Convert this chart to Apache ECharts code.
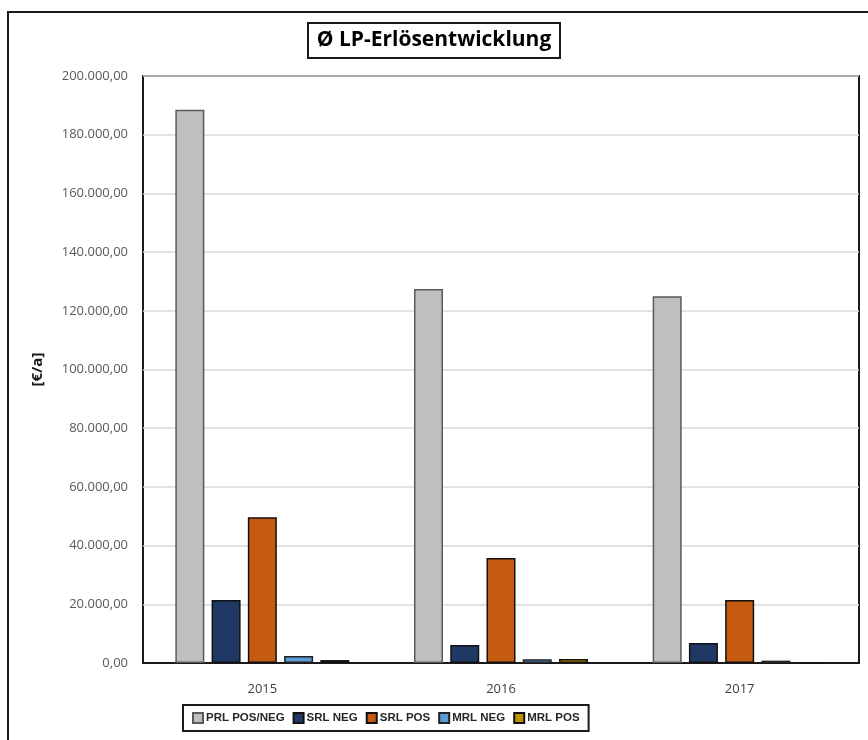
<!DOCTYPE html>
<html>
<head>
<meta charset="utf-8">
<script src="https://cdn.jsdelivr.net/npm/echarts@6/dist/echarts.min.js"></script>
<style>
  html, body { margin: 0; padding: 0; background: #fff; }
  #chart { width: 868px; height: 740px; }
</style>
</head>
<body>
<div id="chart"></div>
<script>
// Average revenue development per year, by product (€/a)
const years = ['2015', '2016', '2017'];
const seriesNames = ['PRL POS/NEG', 'SRL NEG', 'SRL POS', 'MRL NEG', 'MRL POS'];
const prlPosNeg = [188500, 127400, 125000];
const srlNeg = [21500, 6100, 6800];
const srlPos = [49700, 35800, 21500];
const mrlNeg = [2400, 1300, 800];
const mrlPos = [1000, 1400, 200];
const yTicks = [0, 20000, 40000, 60000, 80000, 100000, 120000, 140000, 160000, 180000, 200000];

const seriesValues = [prlPosNeg, srlNeg, srlPos, mrlNeg, mrlPos];
const colors = ['#bfbfbf', '#1f3864', '#c55a11', '#5b9bd5', '#bf9000'];
const borders = ['#5a5a5a', '#111111', '#111111', '#222222', '#111111'];

const FONT = '"Open Sans", "Noto Sans", sans-serif';
const LEGEND_FONT = '"Liberation Sans", Arial, sans-serif';

function deNumber(v) {
  const s = v.toFixed(2).split('.');
  const intPart = s[0].replace(/\B(?=(\d{3})+(?!\d))/g, '.');
  return intPart + ',' + s[1];
}

const chart = echarts.init(document.getElementById('chart'), null, { renderer: 'canvas' });

chart.setOption({
  backgroundColor: '#ffffff',
  animation: false,
  title: {
    text: 'Ø LP-Erlösentwicklung',
    left: 'center',
    top: 23,
    padding: [7, 9, 7, 9],
    borderColor: '#1a1a1a',
    borderWidth: 2,
    textStyle: { fontFamily: FONT, fontSize: 21, fontWeight: 'bold', color: '#000' }
  },
  graphic: [
    {
      type: 'rect',
      shape: { x: 8, y: 12, width: 900, height: 800 },
      style: { fill: 'none', stroke: '#1a1a1a', lineWidth: 2 },
      silent: true,
      z: -1
    }
  ],
  legend: {
    data: seriesNames,
    left: 183,
    top: 705,
    width: 640,
    padding: [7, 9, 7, 9],
    borderColor: '#1a1a1a',
    borderWidth: 2,
    itemWidth: 10,
    itemHeight: 10,
    itemGap: 8,
    icon: 'rect',
    textStyle: { fontFamily: LEGEND_FONT, fontSize: 11.5, fontWeight: 'bold', color: '#262626', padding: [0, 0, 0, -2] }
  },
  grid: {
    left: 143,
    top: 76,
    right: 9,
    bottom: 77,
    show: true,
    borderColor: '#1a1a1a',
    borderWidth: 2,
    containLabel: false
  },
  xAxis: {
    type: 'category',
    data: years,
    axisLine: { show: true, lineStyle: { color: '#1a1a1a', width: 2 } },
    axisTick: { show: false },
    axisLabel: { margin: 20, fontFamily: FONT, fontSize: 13, color: '#404040' }
  },
  yAxis: {
    type: 'value',
    min: yTicks[0],
    max: yTicks[yTicks.length - 1],
    interval: 20000,
    name: '[€/a]',
    nameLocation: 'middle',
    nameRotate: 90,
    nameGap: 98,
    nameTextStyle: { fontFamily: FONT, fontSize: 15, fontWeight: 'bold', color: '#1a1a1a' },
    axisLine: { show: false },
    axisTick: { show: false },
    splitLine: { lineStyle: { color: '#d9d9d9', width: 1.5 } },
    axisLabel: {
      margin: 15,
      fontFamily: FONT,
      fontSize: 13,
      color: '#595959',
      formatter: v => deNumber(v)
    }
  },
  series: seriesNames.map((name, i) => ({
    name: name,
    type: 'bar',
    data: seriesValues[i],
    barWidth: 29,
    barGap: '25%',
    itemStyle: {
      color: colors[i],
      borderColor: borders[i],
      borderWidth: 1.5
    }
  }))
});
</script>
</body>
</html>
